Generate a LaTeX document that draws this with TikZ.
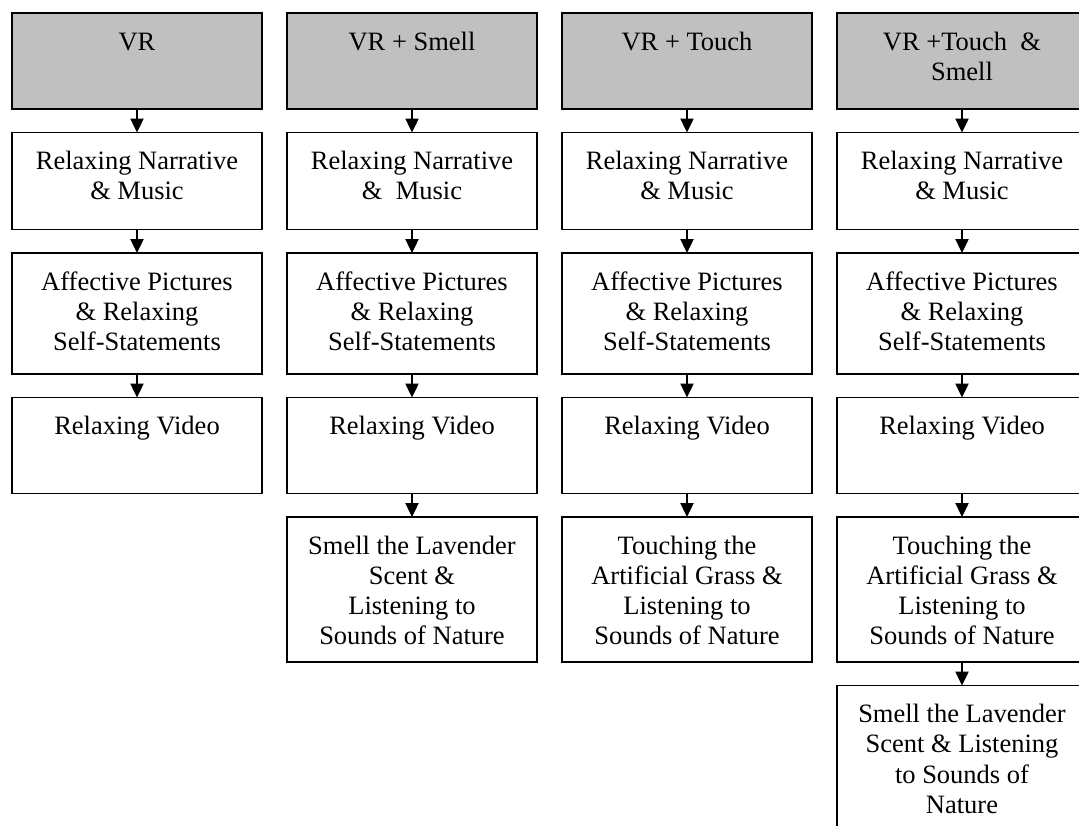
\documentclass[tikz,border=0pt]{standalone}
\usepackage{fontspec}
\setmainfont{Liberation Serif}
\usetikzlibrary{positioning}
\usetikzlibrary{arrows.meta}
\definecolor{headgray}{RGB}{192,192,192}
% text sits at the top of a box of fixed height
\newcommand{\boxtxt}[2]{\parbox[t][#1][t]{250pt}{\centering\rule{0pt}{37pt}#2}}

\begin{document}
\begin{tikzpicture}[>={Triangle[width=13pt,length=14pt]}, node distance=23.5pt and 25pt]
\tikzstyle{stage}=[draw=black, line width=1.4pt, fill=white, inner sep=0pt, outer sep=0pt,
  font=\fontsize{26.5}{30.3}\selectfont]
\tikzstyle{group}=[stage, fill=headgray]
\tikzstyle{flow}=[->, line width=2.4pt]
\path[use as bounding box, clip] (0,0) rectangle (1079pt,-825pt);

% header row
\node[group, anchor=north west] (vr) at (12pt,-13pt) {\boxtxt{96pt}{VR}};
\node[group] (sm)[right=of vr] {\boxtxt{96pt}{VR + Smell}};
\node[group] (to)[right=of sm] {\boxtxt{96pt}{VR + Touch}};
\node[group] (ts)[right=of to] {\boxtxt{96pt}{VR +Touch\ \ \&\\Smell}};

% VR
\node[stage] (vrN)[below=of vr]  {\boxtxt{97pt}{Relaxing Narrative\\\& Music}};
\node[stage] (vrA)[below=of vrN] {\boxtxt{121pt}{Affective Pictures\\\& Relaxing\\Self-Statements}};
\node[stage] (vrV)[below=of vrA] {\boxtxt{96pt}{Relaxing Video}};

% VR + Smell
\node[stage] (smN)[below=of sm]  {\boxtxt{97pt}{Relaxing Narrative\\\&\ \ Music}};
\node[stage] (smA)[below=of smN] {\boxtxt{121pt}{Affective Pictures\\\& Relaxing\\Self-Statements}};
\node[stage] (smV)[below=of smA] {\boxtxt{96pt}{Relaxing Video}};
\node[stage] (smL)[below=of smV] {\boxtxt{145pt}{Smell the Lavender\\Scent \&\\Listening to\\Sounds of Nature}};

% VR + Touch
\node[stage] (toN)[below=of to]  {\boxtxt{97pt}{Relaxing Narrative\\\& Music}};
\node[stage] (toA)[below=of toN] {\boxtxt{121pt}{Affective Pictures\\\& Relaxing\\Self-Statements}};
\node[stage] (toV)[below=of toA] {\boxtxt{96pt}{Relaxing Video}};
\node[stage] (toG)[below=of toV] {\boxtxt{145pt}{Touching the\\Artificial Grass \&\\Listening to\\Sounds of Nature}};

% VR + Touch & Smell
\node[stage] (tsN)[below=of ts]  {\boxtxt{97pt}{Relaxing Narrative\\\& Music}};
\node[stage] (tsA)[below=of tsN] {\boxtxt{121pt}{Affective Pictures\\\& Relaxing\\Self-Statements}};
\node[stage] (tsV)[below=of tsA] {\boxtxt{96pt}{Relaxing Video}};
\node[stage] (tsG)[below=of tsV] {\boxtxt{145pt}{Touching the\\Artificial Grass \&\\Listening to\\Sounds of Nature}};
\node[stage] (tsL)[below=of tsG] {\boxtxt{170pt}{Smell the Lavender\\Scent \& Listening\\to Sounds of\\Nature}};

\path[flow]
(vr)  edge (vrN)
(vrN) edge (vrA)
(vrA) edge (vrV)
(sm)  edge (smN)
(smN) edge (smA)
(smA) edge (smV)
(smV) edge (smL)
(to)  edge (toN)
(toN) edge (toA)
(toA) edge (toV)
(toV) edge (toG)
(ts)  edge (tsN)
(tsN) edge (tsA)
(tsA) edge (tsV)
(tsV) edge (tsG)
(tsG) edge (tsL)
;
\end{tikzpicture}
\end{document}
